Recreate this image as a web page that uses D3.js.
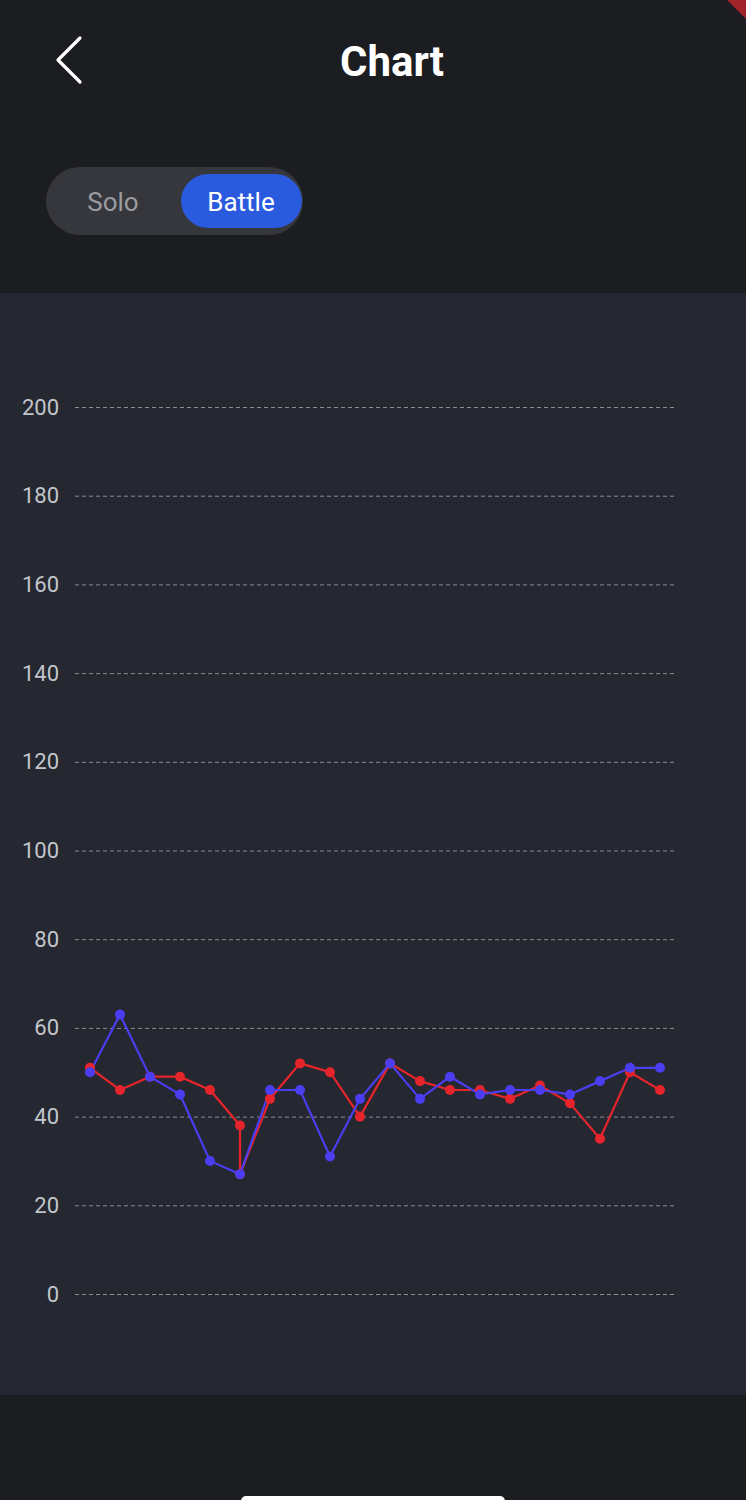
<!DOCTYPE html>
<html>
<head>
<meta charset="utf-8">
<script src="https://cdn.jsdelivr.net/npm/d3@7"></script>
<style>
  html, body { margin: 0; padding: 0; background: #1c1d21; }
  svg { display: block; font-family: Roboto, "Noto Sans", sans-serif; }
</style>
</head>
<body>
<div id="chart"></div>
<script>
// Chart values
const yTicks = [0, 20, 40, 60, 80, 100, 120, 140, 160, 180, 200];

// blue series: one point per game
const blueIdx = [0, 1, 2, 3, 4, 5, 6, 7, 8, 9, 10, 11, 12, 13, 14, 15, 16, 17, 18, 19];
const blueValues = [50, 63, 49, 45, 30, 27, 46, 46, 31, 44, 52, 44, 49, 45, 46, 46, 45, 48, 51, 51];

// red series has two points at game 5 (drops straight down)
const redIdx = [0, 1, 2, 3, 4, 5, 5, 6, 7, 8, 9, 10, 11, 12, 13, 14, 15, 16, 17, 18, 19];
const redValues = [51, 46, 49, 49, 46, 38, 27, 44, 52, 50, 40, 52, 48, 46, 46, 44, 47, 43, 35, 50, 46];

const W = 746, H = 1500;

const svg = d3.select("#chart")
    .append("svg")
    .attr("width", W)
    .attr("height", H);

// Backgrounds
svg.append("rect").attr("width", W).attr("height", H).attr("fill", "#1c1d21");
svg.append("rect").attr("x", 0).attr("y", 293).attr("width", W).attr("height", 1102).attr("fill", "#252731");

// corner tab
svg.append("path").attr("d", "M727,0 L746,0 L746,19 Z").attr("fill", "#a1232a");

// Header
svg.append("path")
    .attr("d", "M80,38 L58,60 L80,82")
    .attr("fill", "none")
    .attr("stroke", "#ffffff")
    .attr("stroke-width", 3.2)
    .attr("stroke-linecap", "round")
    .attr("stroke-linejoin", "round");

svg.append("text")
    .attr("x", 392)
    .attr("y", 76)
    .attr("text-anchor", "middle")
    .attr("fill", "#ffffff")
    .attr("font-size", 42)
    .attr("font-weight", 700)
    .text("Chart");

// Solo / Battle toggle
svg.append("rect").attr("x", 46).attr("y", 167).attr("width", 257).attr("height", 68)
    .attr("rx", 34).attr("fill", "#36373c");
svg.append("rect").attr("x", 181).attr("y", 174).attr("width", 121).attr("height", 54)
    .attr("rx", 27).attr("fill", "#2a5bdf");
svg.append("text").attr("x", 113).attr("y", 211).attr("text-anchor", "middle")
    .attr("fill", "#9b9ca1").attr("font-size", 26).text("Solo");
svg.append("text").attr("x", 241).attr("y", 211).attr("text-anchor", "middle")
    .attr("fill", "#ffffff").attr("font-size", 26).text("Battle");

// Scales
const xScale = d3.scaleLinear().domain([0, 19]).range([90, 660]);
const yScale = d3.scaleLinear().domain([0, 200]).range([1294, 407]);

// Y axis + dashed grid
const yAxis = svg.append("g")
    .attr("transform", "translate(75,0)")
    .call(d3.axisLeft(yScale).tickValues(yTicks).tickSize(-601).tickPadding(16));

yAxis.select(".domain").remove();
yAxis.selectAll(".tick line")
    .attr("stroke", "#8c8e96")
    .attr("stroke-width", 1)
    .attr("stroke-dasharray", "4,3");
yAxis.selectAll(".tick text")
    .attr("fill", "#c3c5cb")
    .attr("font-size", 22)
    .attr("font-family", "Roboto, sans-serif");

// Lines
const redData = redIdx.map((i, k) => ({ i, v: redValues[k] }));
const blueData = blueIdx.map((i, k) => ({ i, v: blueValues[k] }));

const line = d3.line().x(d => xScale(d.i)).y(d => yScale(d.v));

svg.append("path").datum(redData)
    .attr("d", line).attr("fill", "none")
    .attr("stroke", "#e5252b").attr("stroke-width", 2.2);

svg.append("path").datum(blueData)
    .attr("d", line).attr("fill", "none")
    .attr("stroke", "#4b3ef0").attr("stroke-width", 2.2);

// Points
svg.selectAll(".red-dot")
    .data(redData)
    .enter()
    .append("circle")
    .attr("class", "red-dot")
    .attr("cx", d => xScale(d.i))
    .attr("cy", d => yScale(d.v))
    .attr("r", 5)
    .attr("fill", "#e5252b");

svg.selectAll(".blue-dot")
    .data(blueData)
    .enter()
    .append("circle")
    .attr("class", "blue-dot")
    .attr("cx", d => xScale(d.i))
    .attr("cy", d => yScale(d.v))
    .attr("r", 5)
    .attr("fill", "#4b3ef0");

// home indicator
svg.append("rect").attr("x", 241).attr("y", 1496).attr("width", 264).attr("height", 10)
    .attr("rx", 5).attr("fill", "#ffffff");
</script>
</body>
</html>
